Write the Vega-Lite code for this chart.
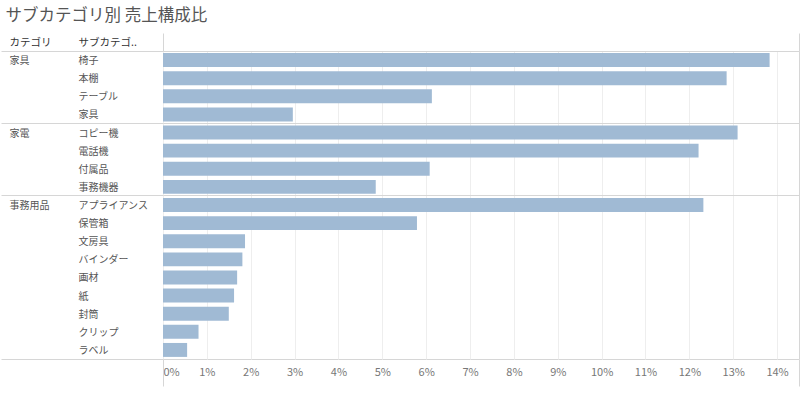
{
  "$schema": "https://vega.github.io/schema/vega-lite/v6.json",
  "width": 636,
  "height": 308,
  "padding": {"top": 8, "left": 0, "right": 2, "bottom": 9},
  "background": "white",
  "title": {
    "text": "サブカテゴリ別 売上構成比",
    "anchor": "start",
    "frame": "bounds",
    "dx": 5,
    "offset": 8,
    "fontSize": 16.5,
    "fontWeight": "normal",
    "font": "Noto Sans CJK JP",
    "color": "#555555"
  },
  "data": {
    "values": [
      {"category": "家具", "subcategory": "椅子", "share": 0.1383},
      {"category": "家具", "subcategory": "本棚", "share": 0.1285},
      {"category": "家具", "subcategory": "テーブル", "share": 0.0613},
      {"category": "家具", "subcategory": "家具", "share": 0.0296},
      {"category": "家電", "subcategory": "コピー機", "share": 0.1310},
      {"category": "家電", "subcategory": "電話機", "share": 0.1221},
      {"category": "家電", "subcategory": "付属品", "share": 0.0608},
      {"category": "家電", "subcategory": "事務機器", "share": 0.0485},
      {"category": "事務用品", "subcategory": "アプライアンス", "share": 0.1232},
      {"category": "事務用品", "subcategory": "保管箱", "share": 0.0579},
      {"category": "事務用品", "subcategory": "文房具", "share": 0.0187},
      {"category": "事務用品", "subcategory": "バインダー", "share": 0.0181},
      {"category": "事務用品", "subcategory": "画材", "share": 0.0169},
      {"category": "事務用品", "subcategory": "紙", "share": 0.0162},
      {"category": "事務用品", "subcategory": "封筒", "share": 0.0150},
      {"category": "事務用品", "subcategory": "クリップ", "share": 0.0081},
      {"category": "事務用品", "subcategory": "ラベル", "share": 0.0055}
    ]
  },
  "layer": [
    {
      "mark": {"type": "bar", "color": "#a0bad4", "height": {"band": 0.77}},
      "encoding": {
        "y": {
          "field": "subcategory", "type": "nominal", "sort": null,
          "scale": {"paddingInner": 0, "paddingOuter": 0},
          "axis": {
            "orient": "left",
            "title": "サブカテゴ..",
            "titleAngle": 0, "titleAlign": "left", "titleBaseline": "middle",
            "titleX": -85, "titleY": -9,
            "titleFontSize": 10.5, "titleFontWeight": "normal", "titleColor": "#333333",
            "titleFont": "Noto Sans CJK JP",
            "ticks": false, "tickSize": 0, "domain": false, "grid": false,
            "labelAlign": "left", "labelPadding": 85, "labelBaseline": "middle", "labelOffset": 1,
            "labelFontSize": 10, "labelColor": "#555555", "labelFont": "Noto Sans CJK JP"
          }
        },
        "x": {
          "field": "share", "type": "quantitative",
          "scale": {"domain": [0, 0.145], "nice": false, "zero": true},
          "axis": {
            "orient": "bottom",
            "title": null,
            "format": ".0%",
            "values": [0, 0.01, 0.02, 0.03, 0.04, 0.05, 0.06, 0.07, 0.08, 0.09, 0.1, 0.11, 0.12, 0.13, 0.14],
            "grid": true, "gridColor": "#eeeeee", "gridWidth": 1,
            "ticks": false, "domain": false,
            "labelFlush": true, "labelPadding": 7,
            "labelFontSize": 11, "labelColor": "#777777", "labelFont": "Noto Sans CJK JP"
          }
        }
      }
    },
    {
      "mark": {"type": "bar", "opacity": 0, "height": {"band": 0.77}},
      "encoding": {
        "y": {
          "field": "subcategory", "type": "nominal", "sort": null,
          "scale": {"paddingInner": 0, "paddingOuter": 0},
          "axis": {
            "orient": "left",
            "values": ["椅子", "コピー機", "アプライアンス"],
            "bandPosition": 0,
            "title": "カテゴリ",
            "titleAngle": 0, "titleAlign": "left", "titleBaseline": "middle",
            "titleX": -154, "titleY": -9,
            "titleFontSize": 10.5, "titleFontWeight": "normal", "titleColor": "#333333",
            "titleFont": "Noto Sans CJK JP",
            "ticks": true, "tickSize": 162, "tickColor": "#d6d6d6", "tickWidth": 1,
            "domain": false,
            "grid": true, "gridColor": "#d6d6d6", "gridWidth": 1,
            "labelExpr": "datum.value == '椅子' ? '家具' : datum.value == 'コピー機' ? '家電' : '事務用品'",
            "labelAlign": "left", "labelPadding": -8, "labelOffset": 1, "labelBaseline": "middle",
            "labelFontSize": 10, "labelColor": "#555555", "labelFont": "Noto Sans CJK JP"
          }
        },
        "x": {
          "field": "share", "type": "quantitative",
          "scale": {"domain": [0, 0.145], "nice": false, "zero": true},
          "axis": {
            "orient": "top",
            "title": null,
            "values": [0, 0.145],
            "labels": false, "grid": false, "domain": false,
            "ticks": true, "tickSize": 18, "tickColor": "#d6d6d6", "tickWidth": 1
          }
        }
      }
    },
    {
      "mark": {"type": "bar", "opacity": 0, "height": {"band": 0.77}},
      "encoding": {
        "y": {
          "field": "subcategory", "type": "nominal", "sort": null,
          "scale": {"paddingInner": 0, "paddingOuter": 0},
          "axis": {
            "orient": "left",
            "values": ["ラベル"],
            "bandPosition": 1,
            "title": null,
            "labels": false, "domain": false, "grid": false,
            "ticks": true, "tickSize": 162, "tickColor": "#d6d6d6", "tickWidth": 1
          }
        },
        "x": {
          "field": "share", "type": "quantitative",
          "scale": {"domain": [0, 0.145], "nice": false, "zero": true},
          "axis": {
            "orient": "bottom",
            "title": null,
            "values": [0, 0.145],
            "labels": false, "grid": false, "domain": false,
            "ticks": true, "tickSize": 27, "tickColor": "#d6d6d6", "tickWidth": 1
          }
        }
      }
    }
  ],
  "resolve": {"axis": {"x": "independent", "y": "independent"}},
  "config": {
    "view": {"stroke": "#d6d6d6", "strokeWidth": 1},
    "font": "Noto Sans CJK JP"
  }
}
